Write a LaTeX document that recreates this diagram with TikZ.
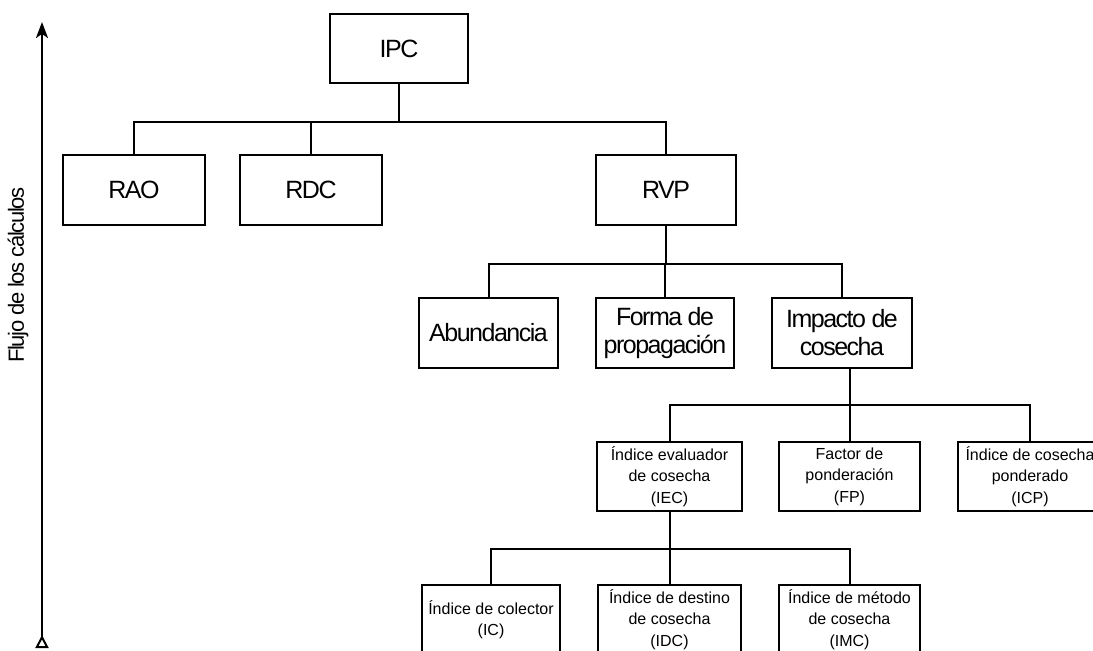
\documentclass[tikz,border=0pt]{standalone}
\usepackage{fontspec}
\setmainfont{Liberation Sans}
\newfontfamily\tightfont[LetterSpace=-6]{Liberation Sans}
\usetikzlibrary{arrows.meta}

\begin{document}
\begin{tikzpicture}[x=0.5pt, y=-0.5pt, >=Stealth,
  box/.style={draw, line width=1pt, minimum width=#1, minimum height=34.5pt, inner sep=1pt, align=center, font=\tightfont\fontsize{12.5}{14}\selectfont},
  box/.default=70pt,
  sbox/.style={box=#1, font=\fontsize{8}{10.75}\selectfont},
  sbox/.default=71pt,
  link/.style={line width=1pt}]
  \useasboundingbox (0,0) rectangle (1093,650);
  \clip (0,0) rectangle (1093,650);
  % flow axis
  \coordinate (flowbot) at (42,648);
  \coordinate (flowtop) at (42,22);
  \draw[line width=1pt, {Triangle[open, length=6.5pt, width=6.5pt, reversed]}-{Stealth[length=8pt, width=6pt, inset=2pt]}] (flowbot) -- (flowtop);
  \node[rotate=90, font=\tightfont\fontsize{11}{13}\selectfont] (flowlab) at (18,275) {Flujo de los cálculos};
  % level 1
  \node[box=69pt] (ipc) at (399,48.5) {IPC};
  \node[box=71pt, minimum height=35pt] (rao) at (134,190) {RAO};
  \node[box=71pt, minimum height=35pt] (rdc) at (311,190) {RDC};
  \node[box=70pt, minimum height=35pt] (rvp) at (666,190) {RVP};
  \draw[link] (ipc.south) -- ++(0,38) coordinate (b1);
  \draw[link] (rao.north) |- (b1) -| (rvp.north);
  \draw[link] (rdc.north) -- (rdc.north |- b1);
  % level 2
  \node[box=69.5pt, minimum height=35pt] (abund) at (488.5,333) {Abundancia};
  \node[box=69pt, minimum height=35pt] (forma) at (665,333) {Forma de\\propagación};
  \node[box=70pt, minimum height=35pt] (impac) at (842,333) {Impacto de\\cosecha};
  \draw[link] (rvp.south) -- ++(0,38) coordinate (b2);
  \draw[link] (abund.north) |- (b2) -| (impac.north);
  \draw[link] (forma.north) -- (forma.north |- b2);
  % level 3
  \node[sbox=72.5pt] (iec) at (669.5,476.5) {Índice evaluador\\de cosecha\\(IEC)};
  \node[sbox=70.5pt] (fp) at (849.5,476.5) {Factor de\\ponderación\\(FP)};
  \node[sbox=72.5pt] (icp) at (1030,476.5) {Índice de cosecha\\ponderado\\(ICP)};
  \draw[link] (fp.north) -- (fp.north |- impac.south);
  \draw[link] (iec.north) |- (fp.north |- 0,405) -| (icp.north);
  % level 4
  \node[sbox=69pt] (ic) at (491,619.5) {Índice de colector\\(IC)};
  \node[sbox=71.5pt] (idc) at (669.5,619.5) {Índice de destino\\de cosecha\\(IDC)};
  \node[sbox=70.5pt] (imc) at (849.5,619.5) {Índice de método\\de cosecha\\(IMC)};
  \draw[link] (iec.south) -- ++(0,37) coordinate (b4);
  \draw[link] (ic.north) |- (b4) -| (imc.north);
  \draw[link] (idc.north) -- (b4);
\end{tikzpicture}
\end{document}
